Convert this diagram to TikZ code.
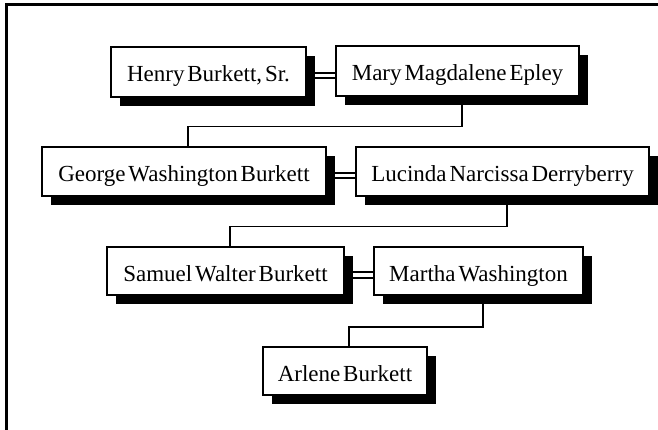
\documentclass[tikz,border=0pt]{standalone}
\usepackage{fontspec}
\setmainfont{Liberation Serif}[WordSpace=0.5]
\usetikzlibrary{shadows,backgrounds}
\begin{document}
\begin{tikzpicture}[x=1pt,y=-1pt,
  person/.style={draw, line width=1.5pt, fill=white, inner sep=0pt,
    minimum height=50pt, text height=22pt, text depth=2pt,
    font=\fontsize{23}{27}\selectfont,
    drop shadow={shadow xshift=9pt, shadow yshift=-9pt, fill=black, opacity=1}},
  couple/.style={double, line width=2pt, double distance=3.5pt},
  descent/.style={line width=1.5pt},
  frameline/.style={line width=3pt, line join=miter}]
\useasboundingbox (0,0) rectangle (658,430);
\draw[frameline] (6.5,430) -- (6.5,4.5) -- (658,4.5);

\node[person, minimum width=195pt] (h) at (208.5,72) {Henry Burkett, Sr.};
\node[person, minimum width=243pt] (m) at (457.5,71) {Mary Magdalene Epley};
\node[person, minimum width=284pt, minimum height=49pt] (g) at (184,171.5) {George Washington Burkett};
\node[person, minimum width=293pt, minimum height=49pt] (l) at (502.5,171.5) {Lucinda Narcissa Derryberry};
\node[person, minimum width=237pt, minimum height=48pt] (s) at (225.5,271) {Samuel Walter Burkett};
\node[person, minimum width=209pt, minimum height=48pt] (w) at (478.5,271) {Martha Washington};
\node[person, minimum width=164pt, minimum height=48pt] (a) at (345,371) {Arlene Burkett};

\begin{pgfonlayer}{background}
\draw[couple] ([yshift=-3.5pt]h.east) -- ([yshift=-3.5pt]h.east -| m.west);
\draw[couple] ([yshift=-4pt]g.east) -- ([yshift=-4pt]g.east -| l.west);
\draw[couple] ([yshift=-4pt]s.east) -- ([yshift=-4pt]s.east -| w.west);
\draw[descent] ([xshift=4.5pt]m.south) -- ++(0,30) -| ([xshift=4pt]g.north);
\draw[descent] ([xshift=4.5pt]l.south) -- ++(0,30) -| ([xshift=4.5pt]s.north);
\draw[descent] ([xshift=4.5pt]w.south) -- ++(0,31) -| ([xshift=4pt]a.north);
\end{pgfonlayer}
\end{tikzpicture}
\end{document}
